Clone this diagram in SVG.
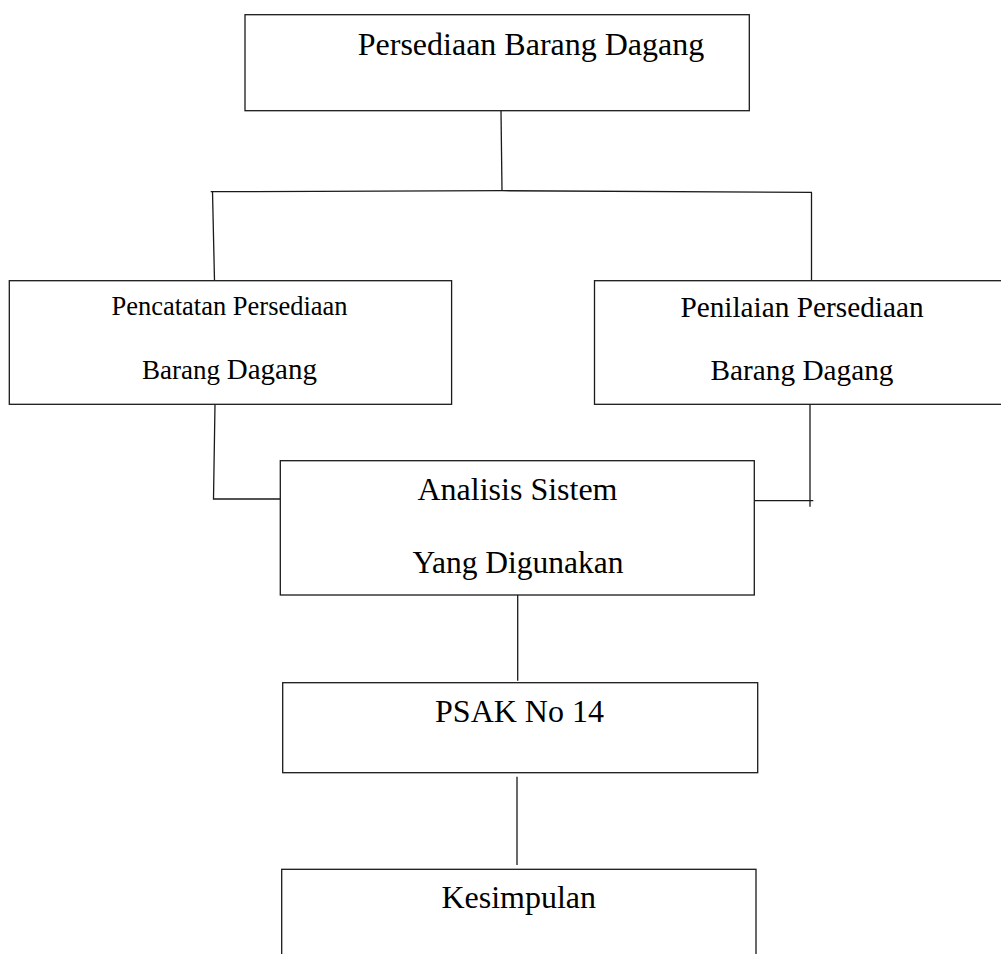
<svg xmlns="http://www.w3.org/2000/svg" width="1001" height="954" viewBox="0 0 1001 954">
<style>
.box{fill:#fff;stroke:#1a1a1a;stroke-width:1.3}
.ln{fill:none;stroke:#1a1a1a;stroke-width:1.3}
text{font-family:"Liberation Serif","Times New Roman",serif;fill:#000;text-anchor:middle}
</style>
<rect x="0" y="0" width="1001" height="954" fill="#fff"/>
<g id="connectors">
<polyline class="ln" points="501,110.7 502,190.7"/>
<polyline class="ln" points="210.7,191.7 502,190.7 812,192.3"/>
<polyline class="ln" points="212.5,191.5 214.5,280.7"/>
<polyline class="ln" points="811.5,192.5 811.5,280.7"/>
<polyline class="ln" points="215,404.3 213.5,499 281,499"/>
<polyline class="ln" points="810,404.3 810,506.7"/>
<polyline class="ln" points="754.5,500.7 813.3,500.7"/>
<polyline class="ln" points="517.7,595 517.7,680.7"/>
<polyline class="ln" points="517,776.7 517,865"/>
</g>
<g id="node-persediaan">
<rect class="box" x="245" y="14.7" width="504.3" height="96"/>
<text x="531" y="55" font-size="32">Persediaan Barang Dagang</text>
</g>
<g id="node-pencatatan">
<rect class="box" x="9.3" y="280.7" width="442.3" height="123.6"/>
<text x="229.5" y="315" font-size="26.5">Pencatatan Persediaan</text>
<text x="229.5" y="378.7"><tspan font-size="27">Barang </tspan><tspan font-size="29">Dagang</tspan></text>
</g>
<g id="node-penilaian">
<rect class="box" x="594.5" y="280.7" width="420" height="123.6"/>
<text x="802" y="316.7" font-size="29.3">Penilaian Persediaan</text>
<text x="802" y="380" font-size="29.3">Barang Dagang</text>
</g>
<g id="node-analisis">
<rect class="box" x="280.3" y="460.7" width="474" height="134.3"/>
<text x="517.5" y="500" font-size="32">Analisis Sistem</text>
<text x="518" y="573.3" font-size="31.5">Yang Digunakan</text>
</g>
<g id="node-psak">
<rect class="box" x="282.7" y="682.7" width="475" height="90"/>
<text x="519.5" y="721.7" font-size="32">PSAK No 14</text>
</g>
<g id="node-kesimpulan">
<rect class="box" x="281.7" y="869.3" width="474.3" height="110"/>
<text x="518.7" y="908.3" font-size="32">Kesimpulan</text>
</g>
</svg>
